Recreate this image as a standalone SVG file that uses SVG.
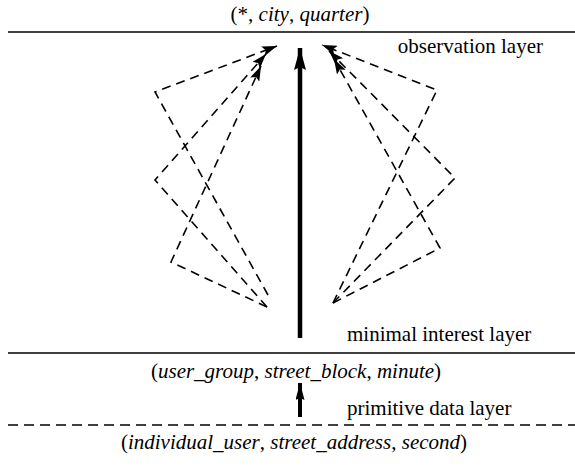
<svg xmlns="http://www.w3.org/2000/svg" width="575" height="471" viewBox="0 0 575 471">
  <style>
    .dash { fill: none; stroke: #000; stroke-width: 1.6; stroke-dasharray: 9 6; }
    .layer { stroke: #000; stroke-width: 1.6; }
    .lbl { font-family: "Liberation Serif", "DejaVu Serif", serif; font-size: 21px; fill: #000; }
    .it { font-style: italic; }
  </style>
  <defs>
    <marker id="ah" viewBox="0 0 15 10" refX="15" refY="5" markerWidth="15" markerHeight="10" markerUnits="userSpaceOnUse" orient="auto">
      <path d="M0,0 L15,5 L0,10 L3,5 Z" fill="#000"/>
    </marker>
    <marker id="bigah" viewBox="0 0 22 12" refX="22" refY="6" markerWidth="22" markerHeight="12" markerUnits="userSpaceOnUse" orient="auto">
      <path d="M0,0 L22,6 L0,12 L3,6 Z" fill="#000"/>
    </marker>
    <marker id="smah" viewBox="0 0 17 9" refX="17" refY="4.5" markerWidth="17" markerHeight="9" markerUnits="userSpaceOnUse" orient="auto">
      <path d="M0,0 L17,4.5 L0,9 L2,4.5 Z" fill="#000"/>
    </marker>
  </defs>

  <g id="layer-observation">
    <text class="lbl" x="300" y="21" text-anchor="middle">(*, <tspan class="it">city</tspan>, <tspan class="it">quarter</tspan>)</text>
    <line class="layer" x1="8" y1="32" x2="575" y2="32"/>
    <text class="lbl" x="543" y="53" text-anchor="end">observation layer</text>
  </g>

  <g id="layer-minimal">
    <text class="lbl" x="347" y="341">minimal interest layer</text>
    <line class="layer" x1="8" y1="353" x2="575" y2="353"/>
    <text class="lbl" x="296" y="378" text-anchor="middle">(<tspan class="it">user_group</tspan>, <tspan class="it">street_block</tspan>, <tspan class="it">minute</tspan>)</text>
  </g>

  <g id="layer-primitive">
    <text class="lbl" x="347" y="415">primitive data layer</text>
    <line x1="8" y1="425" x2="575" y2="425" stroke="#000" stroke-width="1.6" stroke-dasharray="10 6"/>
    <text class="lbl" x="294" y="449" text-anchor="middle">(<tspan class="it">individual_user</tspan>, <tspan class="it">street_address</tspan>, <tspan class="it">second</tspan>)</text>
  </g>

  <g id="connectors">
    <line x1="300" y1="338" x2="300" y2="48" stroke="#000" stroke-width="4.5" marker-end="url(#bigah)"/>
    <line x1="300" y1="417" x2="300" y2="383" stroke="#000" stroke-width="4" marker-end="url(#smah)"/>

    <polyline class="dash" points="268,295 155,92 277,46" marker-end="url(#ah)"/>
    <polyline class="dash" points="267,307 155,180 266,54" marker-end="url(#ah)"/>
    <polyline class="dash" points="267,307 171,262 261,66" marker-end="url(#ah)"/>

    <polyline class="dash" points="333,303 437,90 322,45" marker-end="url(#ah)"/>
    <polyline class="dash" points="333,303 455,178 329,51" marker-end="url(#ah)"/>
    <polyline class="dash" points="333,303 440,248 334,59" marker-end="url(#ah)"/>
  </g>
</svg>
